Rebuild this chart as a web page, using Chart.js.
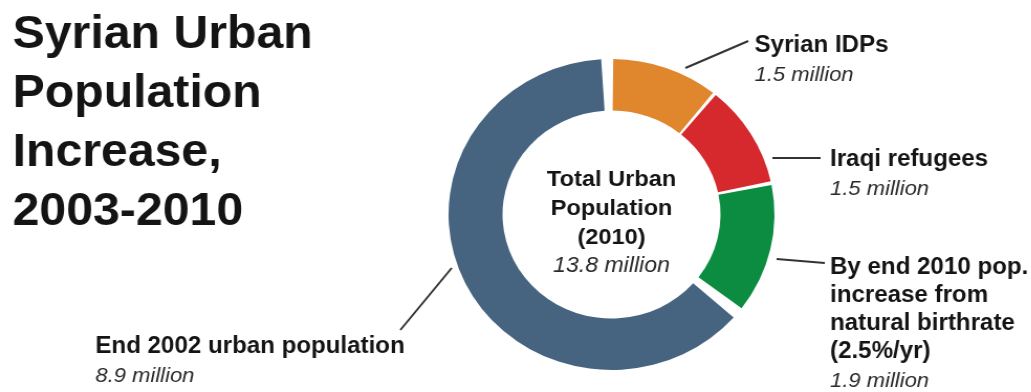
<!DOCTYPE html>
<html>
<head>
<meta charset="utf-8">
<title>Syrian Urban Population Increase, 2003-2010</title>
<script src="https://cdn.jsdelivr.net/npm/chart.js@4.4.1/dist/chart.umd.min.js"></script>
<style>
  html, body { margin: 0; padding: 0; background: #fff; overflow: hidden; }
  /* graphic is laid out a little narrower, then widened to the page */
  #wrap { width: 984px; height: 392px; transform: scaleX(1.048); transform-origin: 0 0; }
</style>
</head>
<body>
<div id="wrap"><canvas id="pop" width="984" height="392"></canvas></div>
<script>
// urban population components, millions
const categories = ['Syrian IDPs', 'Iraqi refugees', 'By end 2010 pop. increase from natural birthrate (2.5%/yr)', 'End 2002 urban population'];
const values = [1.5, 1.5, 1.9, 8.9];
const colors = ['#e0872e', '#d5292e', '#0c8c40', '#46647f'];

const titleLines = ['Syrian Urban', 'Population', 'Increase,', '2003-2010'];
const centerLines = ['Total Urban', 'Population', '(2010)'];

// where each slice's callout text sits, and its leader line
const callouts = [
  { lines: ['Syrian IDPs'], x: 720, y: 52, line: [654, 68, 714, 41] },
  { lines: ['Iraqi refugees'], x: 792, y: 166, line: [737, 158, 783, 158] },
  { lines: ['By end 2010 pop.', 'increase from', 'natural birthrate', '(2.5%/yr)'], x: 792, y: 274, line: [741, 259, 787, 263] },
  { lines: ['End 2002 urban population'], x: 91, y: 353, line: [382, 330, 431, 268] }
];

const BOLD = 'bold 23px "Liberation Sans", Arial, sans-serif';
const ITAL = 'italic 21px "Liberation Sans", Arial, sans-serif';

const textPlugin = {
  id: 'texts',
  afterDraw(chart) {
    const ctx = chart.ctx;
    ctx.save();
    ctx.textBaseline = 'alphabetic';

    // title
    ctx.fillStyle = '#141414';
    ctx.textAlign = 'left';
    ctx.font = 'bold 46px "Liberation Sans", Arial, sans-serif';
    titleLines.forEach((t, i) => ctx.fillText(t, 12, 48 + i * 59));

    // hole text
    const arc = chart.getDatasetMeta(0).data[0];
    const cx = arc.x, cy = arc.y;
    ctx.textAlign = 'center';
    ctx.font = 'bold 22.5px "Liberation Sans", Arial, sans-serif';
    centerLines.forEach((t, i) => ctx.fillText(t, cx, cy - 29 + i * 29));
    const total = values.reduce((a, b) => a + b, 0);
    ctx.font = 'italic 22px "Liberation Sans", Arial, sans-serif';
    ctx.fillStyle = '#2a2a2a';
    ctx.fillText(total.toFixed(1) + ' million', cx, cy + 57);

    // callouts
    ctx.textAlign = 'left';
    ctx.strokeStyle = '#333';
    ctx.lineWidth = 2;
    callouts.forEach((c, i) => {
      ctx.beginPath();
      ctx.moveTo(c.line[0], c.line[1]);
      ctx.lineTo(c.line[2], c.line[3]);
      ctx.stroke();
      ctx.fillStyle = '#141414';
      ctx.font = BOLD;
      c.lines.forEach((t, j) => ctx.fillText(t, c.x, c.y + j * 28));
      ctx.fillStyle = '#2a2a2a';
      ctx.font = ITAL;
      ctx.fillText(values[i].toFixed(1) + ' million', c.x, c.y + c.lines.length * 28 + 1);
    });
    ctx.restore();
  }
};

new Chart(document.getElementById('pop'), {
  type: 'doughnut',
  data: {
    labels: categories,
    datasets: [{
      data: values,
      backgroundColor: colors,
      borderWidth: 0,
      spacing: 8
    }]
  },
  options: {
    responsive: false,
    animation: false,
    cutout: '66%',
    layout: { padding: { left: 428, right: 245, top: 59, bottom: 22 } },
    plugins: {
      legend: { display: false },
      tooltip: { enabled: false }
    }
  },
  plugins: [textPlugin]
});
</script>
</body>
</html>
